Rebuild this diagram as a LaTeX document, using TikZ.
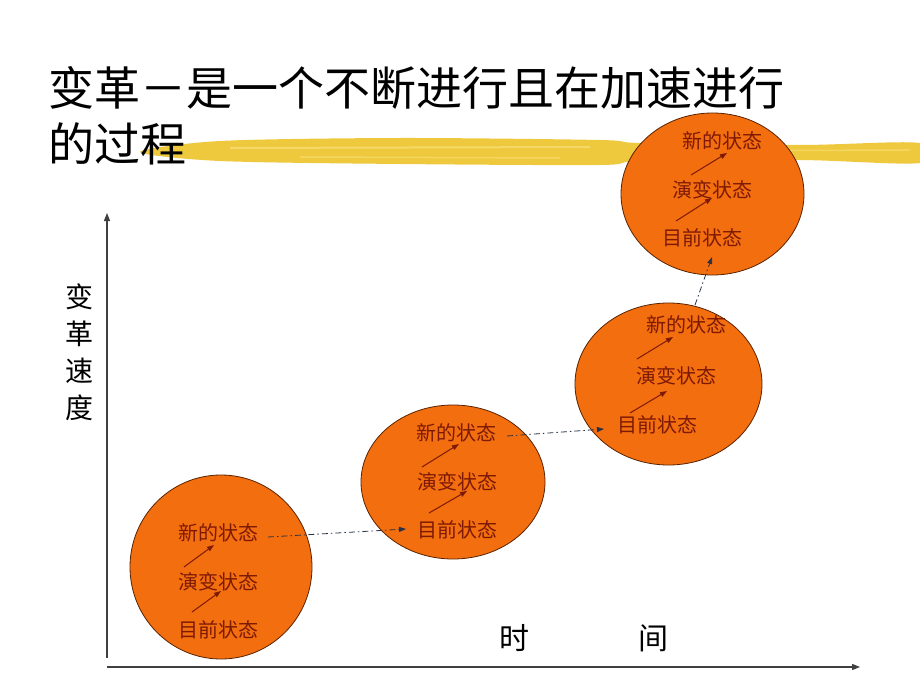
\documentclass[tikz,border=0pt]{standalone}
\usepackage{fontspec}
\newfontfamily\cjk{Noto Sans CJK SC}
\usetikzlibrary{shapes.geometric,arrows.meta}
\definecolor{orangefill}{RGB}{242,110,15}
\definecolor{rimc}{RGB}{90,35,0}
\definecolor{statec}{RGB}{125,25,5}
\definecolor{linkc}{RGB}{40,50,70}
\definecolor{brush}{RGB}{238,196,40}
\definecolor{brushlight}{RGB}{248,224,120}
\begin{document}
\begin{tikzpicture}[x=1pt,y=-1pt,
  state/.style={font=\cjk\fontsize{20}{20}\selectfont, text=statec, inner sep=0pt},
  bubble/.style={ellipse, draw=rimc, line width=0.8pt, fill=orangefill, inner sep=0pt},
  steparrow/.style={draw=statec, line width=1pt, -{Triangle[length=7pt,width=5pt]}},
  link/.style={draw=linkc, line width=0.8pt, dash pattern=on 6pt off 3pt on 1.5pt off 3pt, -{Triangle[length=7pt,width=5pt]}},
  axis/.style={draw=black!75, line width=1.2pt, -{Triangle[length=8pt,width=6pt]}},
  axislabel/.style={font=\cjk\fontsize{28}{37}\selectfont, text=black, inner sep=0pt, align=center}
]
\useasboundingbox (0,0) rectangle (920,690);
\fill[white] (0,0) rectangle (920,690);

% brush highlight behind the title
\fill[brush, opacity=0.9] plot[smooth cycle] coordinates {(140,152) (220,141) (400,138) (600,140) (640,143) (800,145) (920,143) (920,163) (800,160) (640,161) (600,165) (400,164) (220,161)};
\draw[brushlight, line width=2pt, opacity=0.7] (230,148) -- (590,147);
\draw[brushlight, line width=1.5pt, opacity=0.6] (650,151) -- (910,150);
\draw[brushlight, line width=1.5pt, opacity=0.6] (300,157) -- (560,158);

% title
\node[font=\cjk\fontsize{46}{56}\selectfont, anchor=base west, align=left, inner sep=0pt] (title) at (48,161)
  {变革－是一个不断进行且在加速进行\\的过程};

% axes
\coordinate (yb) at (107,658);
\coordinate (yt) at (107,213);
\coordinate (xl) at (107,667);
\coordinate (xr) at (860,667);
\draw[axis] (yb) -- (yt);
\draw[axis] (xl) -- (xr);
\node[axislabel] (ylab) at (79,352) {变\\革\\速\\度};
\node[axislabel, font=\cjk\fontsize{30}{30}\selectfont] (xlab) at (583.5,638) {时\hspace{109pt}间};

% bubbles
\node[bubble, minimum width=182pt, minimum height=184pt] (c1) at (221,567) {};
\node[bubble, minimum width=184pt, minimum height=154pt] (c2) at (453,482) {};
\node[bubble, minimum width=187pt, minimum height=162pt] (c3) at (668.5,384) {};
\node[bubble, minimum width=183pt, minimum height=162pt] (c4) at (712.5,194) {};

% states
\node[state] (n1) at (218,533) {新的状态};
\node[state] (e1) at (218,582) {演变状态};
\node[state] (m1) at (218,630) {目前状态};
\node[state] (n2) at (456,433) {新的状态};
\node[state] (e2) at (457,482) {演变状态};
\node[state] (m2) at (457,530) {目前状态};
\node[state] (n3) at (686,325) {新的状态};
\node[state] (e3) at (676,376) {演变状态};
\node[state] (m3) at (657,425) {目前状态};
\node[state] (n4) at (722,141) {新的状态};
\node[state] (e4) at (712,190) {演变状态};
\node[state] (m4) at (702,238) {目前状态};

% step arrows inside bubbles
\coordinate (a1s) at (184,567); \coordinate (a1e) at (214,545);
\coordinate (b1s) at (192,612); \coordinate (b1e) at (221,591);
\coordinate (a2s) at (422,467); \coordinate (a2e) at (459,444);
\coordinate (b2s) at (429,513); \coordinate (b2e) at (467,491);
\coordinate (a3s) at (637,359); \coordinate (a3e) at (673,337);
\coordinate (b3s) at (630,413); \coordinate (b3e) at (667,391);
\coordinate (a4s) at (691,175); \coordinate (a4e) at (727,153);
\coordinate (b4s) at (676,221); \coordinate (b4e) at (712,198);
\foreach \p in {a1,b1,a2,b2,a3,b3,a4,b4}{\draw[steparrow] (\p s) -- (\p e);}

% links between bubbles
\coordinate (l1s) at (268,537); \coordinate (l1e) at (406,529);
\coordinate (l2s) at (507,436); \coordinate (l2e) at (604,429);
\coordinate (l3s) at (695,305); \coordinate (l3e) at (712,257);
\draw[link] (l1s) -- (l1e);
\draw[link] (l2s) -- (l2e);
\draw[link] (l3s) -- (l3e);
\end{tikzpicture}
\end{document}
